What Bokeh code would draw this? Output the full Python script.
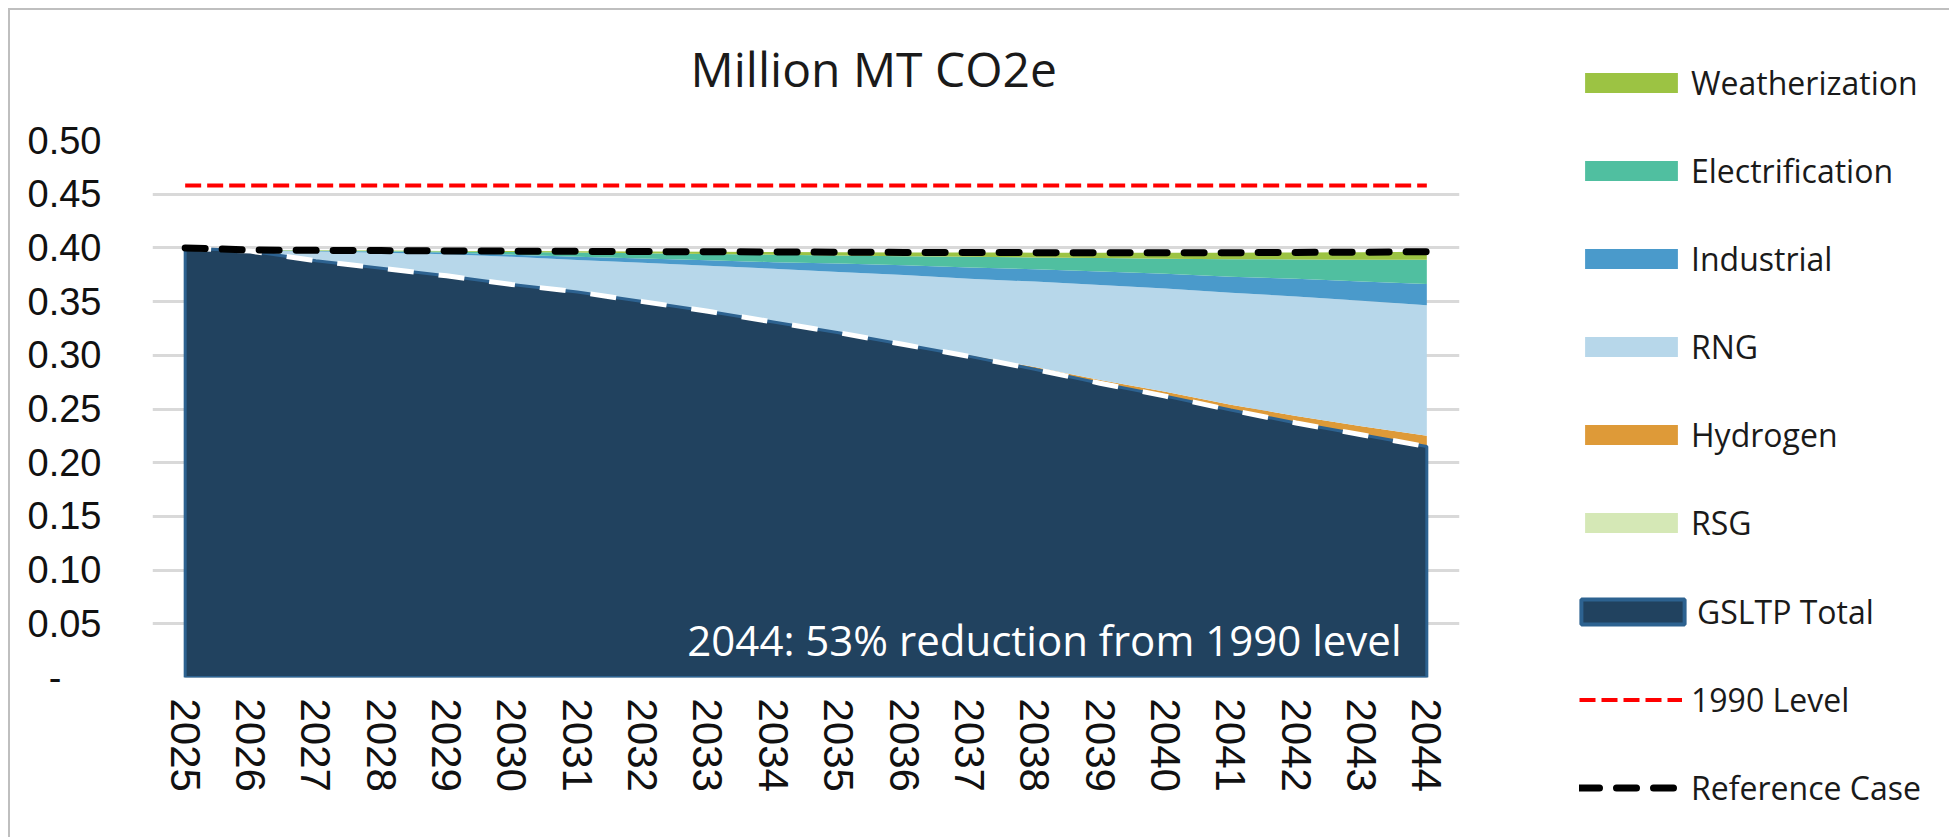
import numpy as np
from bokeh.plotting import figure
from bokeh.layouts import row
from bokeh.models import (FactorRange, Range1d, FixedTicker, NumeralTickFormatter,
                          Legend, LegendItem, Label, Title)
from bokeh.embed import file_html
from bokeh.resources import INLINE

# ---------------- data ----------------
years = [str(y) for y in range(2025, 2045)]

gsltp_total = [0.400, 0.397, 0.388, 0.381, 0.374, 0.366, 0.359, 0.350, 0.341, 0.331,
               0.321, 0.310, 0.299, 0.287, 0.274, 0.262, 0.249, 0.237, 0.226, 0.215]
rsg = [0.0, 0.0, 0.0, 0.0, 0.0, 0.0, 0.0, 0.0, 0.0, 0.0,
       0.0, 0.0, 0.0, 0.0, 0.0, 0.0, 0.0, 0.0, 0.0, 0.0]
hydrogen = [0.0, 0.0, 0.0, 0.0, 0.0, 0.0, 0.0, 0.0, 0.0, 0.0,
            0.0, 0.0005, 0.001, 0.002, 0.003, 0.004, 0.005, 0.0065, 0.008, 0.010]
rng = [0.0, 0.0005, 0.0086, 0.0146, 0.0202, 0.0257, 0.0298, 0.0361, 0.0424, 0.0497,
       0.0565, 0.0643, 0.0712, 0.0796, 0.0885, 0.0962, 0.1042, 0.1113, 0.1168, 0.1215]
industrial = [0.0, 0.0002, 0.0005, 0.001, 0.0015, 0.002, 0.003, 0.004, 0.005, 0.006,
              0.008, 0.009, 0.0105, 0.0115, 0.0125, 0.0138, 0.015, 0.0165, 0.018, 0.020]
electrification = [0.0, 0.0001, 0.0003, 0.0005, 0.001, 0.0025, 0.004, 0.005, 0.006, 0.007,
                   0.0075, 0.0085, 0.010, 0.011, 0.0125, 0.014, 0.0163, 0.018, 0.0202, 0.0225]
weatherization = [0.0, 0.0002, 0.0003, 0.0004, 0.0005, 0.0008, 0.001, 0.0015, 0.002, 0.0025,
                  0.003, 0.0035, 0.004, 0.0045, 0.005, 0.0055, 0.006, 0.0065, 0.007, 0.0075]
reference_case = [0.400, 0.398, 0.3977, 0.3975, 0.3972, 0.397, 0.3968, 0.3966, 0.3964, 0.3962,
                  0.396, 0.3958, 0.3957, 0.3956, 0.3955, 0.3955, 0.3955, 0.3958, 0.396, 0.3965]
level_1990 = [0.458, 0.458, 0.458, 0.458, 0.458, 0.458, 0.458, 0.458, 0.458, 0.458,
              0.458, 0.458, 0.458, 0.458, 0.458, 0.458, 0.458, 0.458, 0.458, 0.458]
y_ticks = [0.0, 0.05, 0.10, 0.15, 0.20, 0.25, 0.30, 0.35, 0.40, 0.45, 0.50]

title_text = "Million MT CO2e"
note_text = "2044: 53% reduction from 1990 level"

# ---------------- styles ----------------
C_GSLTP = "#21425F"
C_GSLTP_EDGE = "#2D6290"
stack_series = [
    ("RSG", rsg, "#D5E8B6"),
    ("Hydrogen", hydrogen, "#DE9A38"),
    ("RNG", rng, "#B7D7EA"),
    ("Industrial", industrial, "#4A9ACB"),
    ("Electrification", electrification, "#50BFA0"),
    ("Weatherization", weatherization, "#9CC343"),
]
colors = {n: c for n, _, c in stack_series}
UI_FONT = "Open Sans"
AX_FONT = "Liberation Sans"
H = 827

p = figure(x_range=FactorRange(*years), y_range=Range1d(0, 0.5),
           frame_width=1307, frame_height=537,
           min_border_left=142, min_border_right=20,
           min_border_top=130, min_border_bottom=150,
           output_backend="svg", toolbar_location=None)
p.outline_line_color = None
p.background_fill_color = "white"
p.border_fill_color = "white"
p.title.text = ""

# spacer between the frame and the chart title, then the title itself
p.add_layout(Title(text=" ", text_font_size="1px", standoff=37), "above")
p.add_layout(Title(text=title_text, align="left", offset=538, standoff=0,
                   text_font=UI_FONT, text_font_size="48px", text_font_style="normal",
                   text_color="#1a1a1a"), "above")

# stacked areas
base = np.array(gsltp_total, dtype=float)
for name, vals, col in stack_series:
    top = base + np.array(vals, dtype=float)
    p.varea(x=years, y1=base, y2=top, fill_color=col)
    base = top

p.patch(x=years + years[::-1], y=gsltp_total + [0.0] * len(years),
        fill_color=C_GSLTP, line_color=C_GSLTP_EDGE, line_width=3)
p.line(years, gsltp_total, line_color="white", line_width=5, line_dash="26 25")
p.line(years, level_1990, line_color="#FF0000", line_width=4, line_dash="16 6")
p.line(years, reference_case, line_color="black", line_width=7,
       line_dash="20 17", line_cap="round")

# axes
p.yaxis.ticker = FixedTicker(ticks=y_ticks)
p.yaxis.formatter = NumeralTickFormatter(format="0.00")
p.yaxis.major_label_overrides = {0: "-\u2007\u2002"}
p.yaxis.axis_line_color = None
p.yaxis.major_tick_line_color = None
p.yaxis.minor_tick_line_color = None
p.yaxis.major_label_standoff = 45
p.yaxis.major_label_text_font = AX_FONT
p.yaxis.major_label_text_font_size = "38px"
p.yaxis.major_label_text_color = "#111111"

p.xaxis.axis_line_color = None
p.xaxis.major_tick_line_color = None
p.xaxis.minor_tick_line_color = None
p.xaxis.major_label_orientation = "vertical"
p.xaxis.major_label_standoff = 15
p.xaxis.major_label_text_font = AX_FONT
p.xaxis.major_label_text_font_size = "42px"
p.xaxis.major_label_text_color = "#111111"

p.xgrid.grid_line_color = None
p.ygrid.grid_line_color = "#D9D9D9"
p.ygrid.grid_line_width = 3

p.add_layout(Label(x=1249, y=38, x_units="screen", y_units="screen", text=note_text,
                   text_align="right", text_baseline="alphabetic",
                   text_font=UI_FONT, text_font_size="42px", text_color="white"))

# ---------------- legend panel ----------------
q = figure(width=470, height=H, x_range=Range1d(0, 1), y_range=Range1d(0, 1),
           min_border_left=80, min_border_top=50, min_border_right=0, min_border_bottom=0,
           x_axis_type=None, y_axis_type=None,
           output_backend="svg", toolbar_location=None)
q.outline_line_color = None
q.grid.grid_line_color = None
q.background_fill_color = "white"
q.border_fill_color = "white"
for fig in (p, q):
    if "frame_align" in fig.properties():
        fig.frame_align = False

# legend swatch renderers (their own data lies outside the visible range)
off_x = [5.0, 6.0]
off_y = [5.0, 5.0]
leg_r = {}
for n in ["Weatherization", "Electrification", "Industrial", "RNG", "Hydrogen", "RSG"]:
    leg_r[n] = q.varea(x=off_x, y1=off_y, y2=[6.0, 6.0], fill_color=colors[n])
leg_r["GSLTP Total"] = q.patch(x=[5.0, 6.0, 6.0], y=[5.0, 5.0, 6.0], fill_color=C_GSLTP,
                               line_color=C_GSLTP_EDGE, line_width=4)
leg_r["1990 Level"] = q.line(x=off_x, y=off_y, line_color="#FF0000", line_width=4,
                             line_dash="16 6")
leg_r["Reference Case"] = q.line(x=off_x, y=off_y, line_color="black", line_width=7,
                                 line_dash="20 17", line_cap="round")

common = dict(orientation="vertical", label_height=44, spacing=44, padding=0, margin=0,
              border_line_color=None, background_fill_alpha=0,
              label_text_font=UI_FONT, label_text_font_size="32px",
              label_text_color="#1a1a1a")
area_names = ["Weatherization", "Electrification", "Industrial", "RNG", "Hydrogen", "RSG"]
legend_areas = Legend(items=[LegendItem(label=n, renderers=[leg_r[n]]) for n in area_names],
                      location=(14, 293), glyph_width=116, glyph_height=25,
                      label_standoff=2, **common)
legend_total = Legend(items=[LegendItem(label="GSLTP Total", renderers=[leg_r["GSLTP Total"]])],
                      location=(9, 204), glyph_width=129, glyph_height=31,
                      label_standoff=-6, **common)
legend_lines = Legend(items=[LegendItem(label=n, renderers=[leg_r[n]])
                             for n in ["1990 Level", "Reference Case"]],
                      location=(20, 28), glyph_width=103, glyph_height=25,
                      label_standoff=9, **common)
for lg in (legend_areas, legend_total, legend_lines):
    q.add_layout(lg)

layout = row(p, q)
layout.styles = {"margin-left": "8px", "margin-top": "8px",
                 "border-left": "2px solid #BFBFBF", "border-top": "2px solid #BFBFBF"}

open("out.html", "w").write(file_html(layout, INLINE))
